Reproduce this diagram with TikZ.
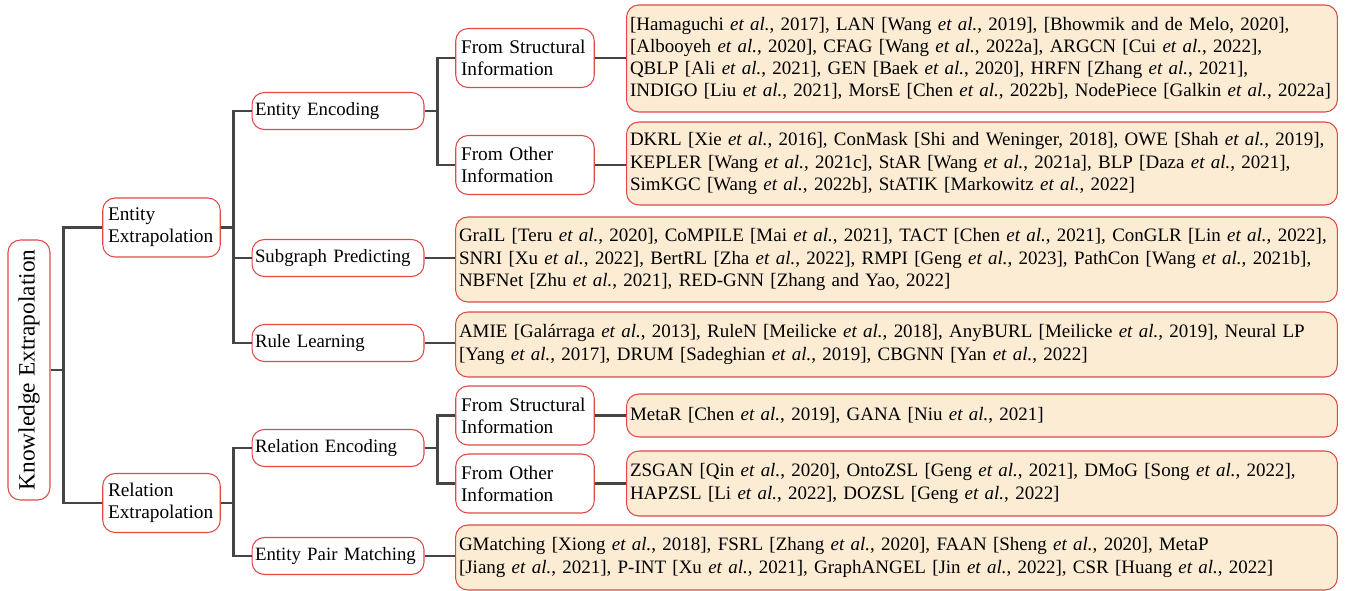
\documentclass[tikz,border=0pt]{standalone}
\usepackage{fontspec}
\setmainfont{Liberation Serif}
\definecolor{boxred}{HTML}{E04848}
\definecolor{leaffill}{HTML}{FCECD4}
\definecolor{linegray}{HTML}{454545}
\newcommand{\etal}{\textit{et al.}}
\begin{document}
\begin{tikzpicture}[
        x=0.02cm, y=-0.02cm,
        font=\fontsize{11}{12.6}\selectfont,
        every node/.style={rounded corners=7pt, draw=boxred, line width=0.6pt, inner sep=3pt},
        cat/.style={fill=white, align=left, minimum height=0.74cm, inner xsep=1.7pt, text width=3.32cm,
            font=\fontsize{10.7}{12.6}\selectfont},
        sub/.style={fill=white, align=left, minimum height=1.18cm, text width=2.56cm},
        leaf/.style={fill=leaffill, align=left, anchor=west, inner xsep=2pt,
            font=\fontsize{10.8}{12.6}\selectfont},
        conn/.style={draw=linegray, line width=1.7pt},
        fork/.style={to path={-- ++(13,0) |- (\tikztotarget)}}
        ]
        \useasboundingbox (0,0) rectangle (1345,591);
        % root
        \node [rotate=90, fill=white, minimum width=5.2cm, minimum height=0.84cm,
            font=\fontsize{13.3}{16}\selectfont] (KE) at (29,370) {Knowledge Extrapolation};
        % first level
        \node [sub, text width=2.14cm] (EE) at (161.5,227.5) {Entity\\Extrapolation};
        \node [sub, text width=2.14cm] (RE) at (161.5,503) {Relation\\Extrapolation};
        % second level
        \node [cat] (EEnc) at (338,111) {Entity Encoding};
        \node [cat] (SP) at (338,258) {Subgraph Predicting};
        \node [cat] (RL) at (338,343) {Rule Learning};
        \node [cat] (REnc) at (338,448) {Relation Encoding};
        \node [cat] (EPM) at (338,556) {Entity Pair Matching};
        % third level
        \node [sub] (EStr) at (525,58) {From Structural\\Information};
        \node [sub] (EOth) at (525,165) {From Other\\Information};
        \node [sub] (RStr) at (525,415.5) {From Structural\\Information};
        \node [sub] (ROth) at (525,483.5) {From Other\\Information};
        % leaves
        \node [leaf, minimum height=2.14cm, text width=14.08cm] (L1) at (626,58.5) {%
            {[}Hamaguchi \etal, 2017], LAN [Wang \etal, 2019], [Bhowmik and de Melo, 2020],\\
            {[}Albooyeh \etal, 2020], CFAG [Wang \etal, 2022a], ARGCN [Cui \etal, 2022],\\
            QBLP [Ali \etal, 2021], GEN [Baek \etal, 2020], HRFN [Zhang \etal, 2021],\\
            INDIGO [Liu \etal, 2021], MorsE [Chen \etal, 2022b], NodePiece [Galkin \etal, 2022a]};
        \node [leaf, minimum height=1.66cm, text width=14.08cm] (L2) at (626,163.5) {%
            DKRL [Xie \etal, 2016], ConMask [Shi and Weninger, 2018], OWE [Shah \etal, 2019],\\
            KEPLER [Wang \etal, 2021c], StAR [Wang \etal, 2021a], BLP [Daza \etal, 2021],\\
            SimKGC [Wang \etal, 2022b], StATIK [Markowitz \etal, 2022]};
        \node [leaf, minimum height=1.7cm, text width=17.5cm] (L3) at (455,259.5) {%
            GraIL [Teru \etal, 2020], CoMPILE [Mai \etal, 2021], TACT [Chen \etal, 2021], ConGLR [Lin \etal, 2022],\\
            SNRI [Xu \etal, 2022], BertRL [Zha \etal, 2022], RMPI [Geng \etal, 2023], PathCon [Wang \etal, 2021b],\\
            NBFNet [Zhu \etal, 2021], RED-GNN [Zhang and Yao, 2022]};
        \node [leaf, minimum height=1.3cm, text width=17.5cm] (L4) at (455,344.5) {%
            AMIE [Galárraga \etal, 2013], RuleN [Meilicke \etal, 2018], AnyBURL [Meilicke \etal, 2019], Neural LP\\
            {[}Yang \etal, 2017], DRUM [Sadeghian \etal, 2019], CBGNN [Yan \etal, 2022]};
        \node [leaf, minimum height=0.86cm, text width=14.08cm] (L5) at (626,415.5) {%
            MetaR [Chen \etal, 2019], GANA [Niu \etal, 2021]};
        \node [leaf, minimum height=1.3cm, text width=14.08cm] (L6) at (626,483.5) {%
            ZSGAN [Qin \etal, 2020], OntoZSL [Geng \etal, 2021], DMoG [Song \etal, 2022],\\
            HAPZSL [Li \etal, 2022], DOZSL [Geng \etal, 2022]};
        \node [leaf, minimum height=1.3cm, text width=17.5cm] (L7) at (455,557.5) {%
            GMatching [Xiong \etal, 2018], FSRL [Zhang \etal, 2020], FAAN [Sheng \etal, 2020], MetaP\\
            {[}Jiang \etal, 2021], P-INT [Xu \etal, 2021], GraphANGEL [Jin \etal, 2022], CSR [Huang \etal, 2022]};
        % connectors
        \draw [conn] (KE.south) to [fork] (EE.west);
        \draw [conn] (KE.south) to [fork] (RE.west);
        \foreach \c in {EEnc,SP,RL}
            \draw [conn] (EE.east) to [fork] (\c.west);
        \foreach \c in {REnc,EPM}
            \draw [conn] (RE.east) to [fork] (\c.west);
        \foreach \c in {EStr,EOth}
            \draw [conn] (EEnc.east) to [fork] (\c.west);
        \foreach \c in {RStr,ROth}
            \draw [conn] (REnc.east) to [fork] (\c.west);
        \draw [conn] (EStr.east) -- (EStr.east -| L1.west);
        \draw [conn] (EOth.east) -- (EOth.east -| L2.west);
        \draw [conn] (SP.east) -- (SP.east -| L3.west);
        \draw [conn] (RL.east) -- (RL.east -| L4.west);
        \draw [conn] (RStr.east) -- (RStr.east -| L5.west);
        \draw [conn] (ROth.east) -- (ROth.east -| L6.west);
        \draw [conn] (EPM.east) -- (EPM.east -| L7.west);
    \end{tikzpicture}
\end{document}
